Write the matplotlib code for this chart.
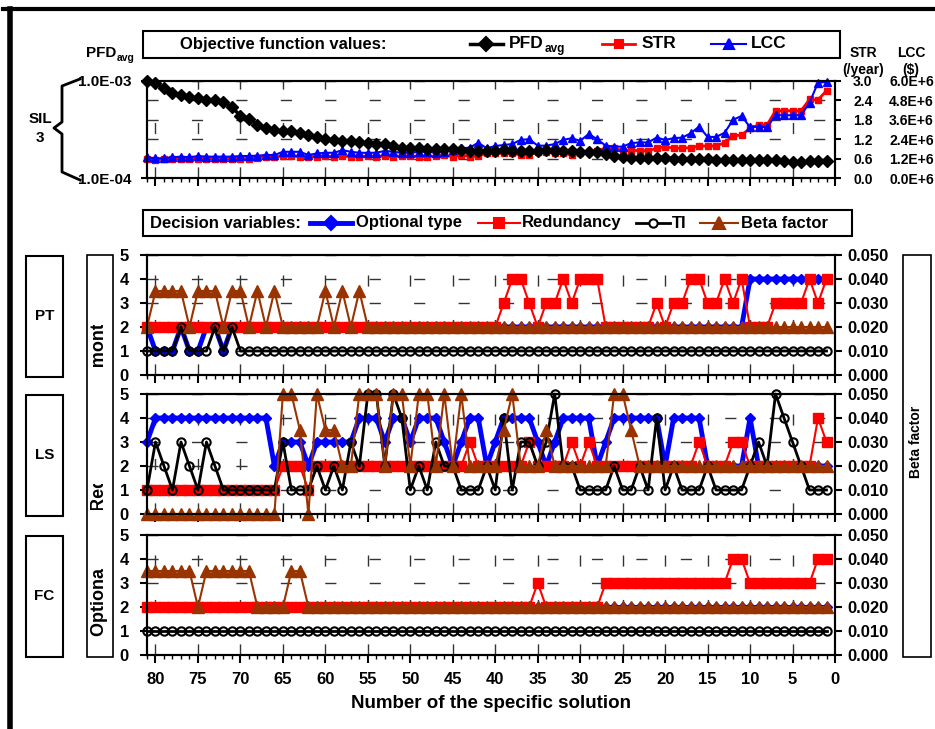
import matplotlib
matplotlib.use("Agg")
import matplotlib.pyplot as plt
from matplotlib.lines import Line2D
from matplotlib.patches import Rectangle
from matplotlib.ticker import MultipleLocator, NullLocator

plt.rcParams["font.family"] = ["Liberation Sans", "DejaVu Sans"]
plt.rcParams["font.weight"] = "bold"
plt.rcParams["font.size"] = 12
plt.rcParams["axes.linewidth"] = 1.5

# solutions numbered 81 -> 1 (left to right)
solution = list(range(81, 0, -1))

# ---- objective function values (rows of 10: 81-72, 71-62, ...) ----
pfd_avg = [
    1.00e-3, 9.46e-4, 8.41e-4, 7.46e-4, 7.18e-4, 6.92e-4, 6.61e-4, 6.37e-4, 6.37e-4, 6.03e-4,
    5.37e-4, 4.37e-4, 4.07e-4, 3.55e-4, 3.24e-4, 3.13e-4, 3.02e-4, 3.02e-4, 2.88e-4, 2.75e-4,
    2.63e-4, 2.51e-4, 2.45e-4, 2.43e-4, 2.40e-4, 2.34e-4, 2.29e-4, 2.24e-4, 2.24e-4, 2.14e-4,
    2.04e-4, 2.04e-4, 2.04e-4, 2.00e-4, 2.00e-4, 2.00e-4, 2.00e-4, 1.95e-4, 1.91e-4, 1.91e-4,
    1.91e-4, 1.91e-4, 1.95e-4, 1.91e-4, 1.91e-4, 1.91e-4, 1.91e-4, 1.95e-4, 1.91e-4, 1.91e-4,
    1.91e-4, 1.86e-4, 1.86e-4, 1.86e-4, 1.76e-4, 1.70e-4, 1.64e-4, 1.62e-4, 1.62e-4, 1.62e-4,
    1.62e-4, 1.62e-4, 1.58e-4, 1.58e-4, 1.58e-4, 1.58e-4, 1.58e-4, 1.53e-4, 1.53e-4, 1.53e-4,
    1.53e-4, 1.53e-4, 1.53e-4, 1.53e-4, 1.53e-4, 1.48e-4, 1.46e-4, 1.46e-4, 1.48e-4, 1.48e-4,
    1.50e-4]
str_rate = [
    0.58, 0.57, 0.58, 0.58, 0.60, 0.60, 0.60, 0.60, 0.60, 0.60,
    0.60, 0.60, 0.60, 0.63, 0.65, 0.65, 0.68, 0.68, 0.66, 0.66,
    0.66, 0.68, 0.66, 0.68, 0.66, 0.66, 0.68, 0.66, 0.68, 0.66,
    0.68, 0.68, 0.66, 0.66, 0.68, 0.70, 0.66, 0.72, 0.66, 0.68,
    0.76, 0.76, 0.76, 0.76, 0.71, 0.71, 0.80, 0.80, 0.76, 0.76,
    0.71, 0.76, 0.80, 0.85, 0.92, 0.92, 0.85, 0.85, 0.85, 0.84,
    0.92, 0.97, 0.92, 0.92, 0.94, 0.99, 0.99, 0.99, 1.09, 1.30,
    1.33, 1.54, 1.64, 1.64, 2.08, 2.08, 2.08, 2.08, 2.43, 2.42,
    2.70]
lcc_musd = [
    1.28, 1.22, 1.22, 1.28, 1.32, 1.28, 1.36, 1.32, 1.32, 1.32,
    1.32, 1.36, 1.36, 1.38, 1.42, 1.42, 1.62, 1.62, 1.62, 1.42,
    1.52, 1.56, 1.56, 1.72, 1.62, 1.56, 1.56, 1.56, 1.68, 1.62,
    1.56, 1.56, 1.62, 1.62, 1.56, 1.62, 1.72, 1.84, 1.88, 2.18,
    1.84, 1.98, 2.04, 2.10, 2.36, 2.40, 2.00, 2.00, 2.10, 2.36,
    2.46, 2.30, 2.72, 2.40, 2.00, 1.94, 1.94, 2.16, 2.20, 2.20,
    2.50, 2.36, 2.46, 2.50, 2.76, 3.18, 2.54, 2.54, 2.80, 3.60,
    3.84, 3.14, 3.18, 3.14, 3.88, 3.88, 3.88, 3.88, 4.66, 5.90,
    5.94]

# ---- decision variables ----
pt_type = [
    2, 1, 1, 1, 2, 1, 1, 2, 2, 1,
    2, 2, 2, 2, 2, 2, 2, 2, 2, 2,
    2, 2, 2, 2, 2, 2, 2, 2, 2, 2,
    2, 2, 2, 2, 2, 2, 2, 2, 2, 2,
    2, 2, 2, 2, 2, 2, 2, 2, 2, 2,
    2, 2, 2, 2, 2, 2, 2, 2, 2, 2,
    2, 2, 2, 2, 2, 2, 2, 2, 2, 2,
    2, 4, 4, 4, 4, 4, 4, 4, 4, 4,
    4]
pt_red = [
    2, 2, 2, 2, 2, 2, 2, 2, 2, 2,
    2, 2, 2, 2, 2, 2, 2, 2, 2, 2,
    2, 2, 2, 2, 2, 2, 2, 2, 2, 2,
    2, 2, 2, 2, 2, 2, 2, 2, 2, 2,
    2, 2, 3, 4, 4, 3, 2, 3, 3, 4,
    3, 4, 4, 4, 2, 2, 2, 2, 2, 2,
    3, 2, 3, 3, 4, 4, 3, 3, 4, 3,
    4, 2, 2, 2, 3, 3, 3, 3, 4, 3,
    4]
pt_ti = [
    1, 1, 1, 1, 2, 1, 1, 1, 2, 1,
    2, 1, 1, 1, 1, 1, 1, 1, 1, 1,
    1, 1, 1, 1, 1, 1, 1, 1, 1, 1,
    1, 1, 1, 1, 1, 1, 1, 1, 1, 1,
    1, 1, 1, 1, 1, 1, 1, 1, 1, 1,
    1, 1, 1, 1, 1, 1, 1, 1, 1, 1,
    1, 1, 1, 1, 1, 1, 1, 1, 1, 1,
    1, 1, 1, 1, 1, 1, 1, 1, 1, 1,
    1]
pt_beta = [
    0.020, 0.035, 0.035, 0.035, 0.035, 0.020, 0.035, 0.035, 0.035, 0.020,
    0.035, 0.035, 0.020, 0.035, 0.020, 0.035, 0.020, 0.020, 0.020, 0.020,
    0.020, 0.035, 0.020, 0.035, 0.020, 0.035, 0.020, 0.020, 0.020, 0.020,
    0.020, 0.020, 0.020, 0.020, 0.020, 0.020, 0.020, 0.020, 0.020, 0.020,
    0.020, 0.020, 0.020, 0.020, 0.020, 0.020, 0.020, 0.020, 0.020, 0.020,
    0.020, 0.020, 0.020, 0.020, 0.020, 0.020, 0.020, 0.020, 0.020, 0.020,
    0.020, 0.020, 0.020, 0.020, 0.020, 0.020, 0.020, 0.020, 0.020, 0.020,
    0.020, 0.020, 0.020, 0.020, 0.020, 0.020, 0.020, 0.020, 0.020, 0.020,
    0.020]

ls_type = [
    3, 4, 4, 4, 4, 4, 4, 4, 4, 4,
    4, 4, 4, 4, 4, 2, 3, 3, 3, 2,
    3, 3, 3, 3, 3, 4, 4, 4, 3, 4,
    4, 3, 4, 4, 4, 3, 2, 3, 4, 4,
    2, 3, 4, 4, 4, 4, 3, 2, 3, 4,
    4, 4, 4, 2, 3, 4, 4, 4, 4, 4,
    4, 2, 4, 4, 4, 4, 2, 2, 2, 2,
    2, 4, 2, 2, 2, 2, 2, 2, 2, 2,
    2]
ls_red = [
    1, 1, 1, 1, 1, 1, 1, 1, 1, 1,
    1, 1, 1, 1, 1, 1, 2, 2, 2, 1,
    2, 2, 2, 2, 2, 2, 2, 2, 2, 2,
    2, 2, 2, 2, 2, 2, 2, 2, 3, 2,
    2, 2, 2, 2, 2, 3, 2, 2, 2, 2,
    3, 2, 3, 2, 2, 2, 2, 2, 2, 2,
    2, 2, 2, 2, 2, 3, 2, 2, 2, 3,
    3, 2, 2, 2, 2, 2, 2, 2, 2, 4,
    3]
ls_ti = [
    1, 3, 2, 1, 3, 2, 1, 3, 2, 1,
    1, 1, 1, 1, 1, 1, 3, 1, 1, 1,
    2, 1, 2, 1, 3, 2, 5, 5, 2, 5,
    4, 1, 2, 1, 3, 2, 2, 1, 1, 1,
    2, 1, 4, 1, 3, 3, 2, 3, 5, 2,
    2, 1, 1, 1, 1, 2, 1, 1, 2, 1,
    4, 1, 2, 1, 1, 1, 2, 1, 1, 1,
    1, 2, 3, 2, 5, 4, 3, 2, 1, 1,
    1]
ls_beta = [
    0.000, 0.000, 0.000, 0.000, 0.000, 0.000, 0.000, 0.000, 0.000, 0.000,
    0.000, 0.000, 0.000, 0.000, 0.000, 0.000, 0.050, 0.050, 0.035, 0.000,
    0.050, 0.035, 0.035, 0.020, 0.020, 0.050, 0.050, 0.050, 0.020, 0.050,
    0.050, 0.020, 0.050, 0.050, 0.020, 0.050, 0.020, 0.050, 0.020, 0.020,
    0.020, 0.020, 0.035, 0.050, 0.020, 0.020, 0.020, 0.035, 0.020, 0.020,
    0.020, 0.020, 0.020, 0.020, 0.020, 0.050, 0.050, 0.035, 0.020, 0.020,
    0.020, 0.020, 0.020, 0.020, 0.020, 0.020, 0.020, 0.020, 0.020, 0.020,
    0.020, 0.020, 0.020, 0.020, 0.020, 0.020, 0.020, 0.020, 0.020, 0.020,
    0.020]

fc_type = [2] * 81
fc_red = [
    2, 2, 2, 2, 2, 2, 2, 2, 2, 2,
    2, 2, 2, 2, 2, 2, 2, 2, 2, 2,
    2, 2, 2, 2, 2, 2, 2, 2, 2, 2,
    2, 2, 2, 2, 2, 2, 2, 2, 2, 2,
    2, 2, 2, 2, 2, 2, 3, 2, 2, 2,
    2, 2, 2, 2, 3, 3, 3, 3, 3, 3,
    3, 3, 3, 3, 3, 3, 3, 3, 3, 4,
    4, 3, 3, 3, 3, 3, 3, 3, 3, 4,
    4]
fc_ti = [1] * 81
fc_beta = [
    0.035, 0.035, 0.035, 0.035, 0.035, 0.035, 0.020, 0.035, 0.035, 0.035,
    0.035, 0.035, 0.035, 0.020, 0.020, 0.020, 0.020, 0.035, 0.035, 0.020,
    0.020, 0.020, 0.020, 0.020, 0.020, 0.020, 0.020, 0.020, 0.020, 0.020,
    0.020, 0.020, 0.020, 0.020, 0.020, 0.020, 0.020, 0.020, 0.020, 0.020,
    0.020, 0.020, 0.020, 0.020, 0.020, 0.020, 0.020, 0.020, 0.020, 0.020,
    0.020, 0.020, 0.020, 0.020, 0.020, 0.020, 0.020, 0.020, 0.020, 0.020,
    0.020, 0.020, 0.020, 0.020, 0.020, 0.020, 0.020, 0.020, 0.020, 0.020,
    0.020, 0.020, 0.020, 0.020, 0.020, 0.020, 0.020, 0.020, 0.020, 0.020,
    0.020]

panels = [
    ("PT", pt_type, pt_red, pt_ti, pt_beta, 255, 375),
    ("LS", ls_type, ls_red, ls_ti, ls_beta, 394, 514),
    ("FC", fc_type, fc_red, fc_ti, fc_beta, 535, 655),
]

BLUE, RED, BLACK, BROWN = "#0000FF", "#FF0000", "#000000", "#993300"
GRID = dict(color="#333333", lw=1.0, linestyle=(0, (8, 24)))

W, H = 935, 729
fig = plt.figure(figsize=(W / 100, H / 100), dpi=100)


# pixel helpers (origin at top-left of the image)
def fx(px):
    return px / W


def fy(py):
    return 1 - py / H


def frame(x0, y0, x1, y1, lw=1.5):
    fig.add_artist(Rectangle((fx(x0), fy(y1)), fx(x1) - fx(x0), fy(y0) - fy(y1),
                             transform=fig.transFigure, fill=False, ec="black", lw=lw))


def ftext(x, y, s, **kw):
    kw.setdefault("ha", "left")
    kw.setdefault("va", "center")
    fig.text(fx(x), fy(y), s, **kw)


def sample(x0, x1, y, color, marker, ms, lw, mfc=None):
    fig.add_artist(Line2D([fx(x0), fx(x1)], [fy(y), fy(y)], color=color, lw=lw,
                          transform=fig.transFigure))
    fig.add_artist(Line2D([fx((x0 + x1) / 2)], [fy(y)], color=color, marker=marker, ms=ms,
                          mfc=mfc or color, mec=color, mew=1.5, transform=fig.transFigure))


def add_axes(top, bottom):
    return fig.add_axes([fx(147), fy(bottom), fx(835) - fx(147), fy(top) - fy(bottom)])


def style_x(ax, labels):
    ax.set_xlim(81, 0)
    ax.xaxis.set_major_locator(MultipleLocator(5))
    ax.xaxis.set_minor_locator(MultipleLocator(1))
    ax.tick_params(axis="x", which="major", direction="out", length=6, width=1.5,
                   labelbottom=labels, pad=6, labelsize=12)
    ax.tick_params(axis="x", which="minor", direction="out", length=3, width=1)


# ---------------- objective function panel ----------------
ax_str = add_axes(81, 178)
ax_pfd = ax_str.twinx()
ax_lcc = ax_str.twinx()
ax_str.set_zorder(1)
ax_lcc.set_zorder(2)
ax_pfd.set_zorder(3)
ax_str.patch.set_visible(True)

style_x(ax_str, False)
ax_str.set_ylim(0, 3)
ax_str.set_yticks([0, 0.6, 1.2, 1.8, 2.4, 3.0])
ax_str.set_yticklabels([f"{v:.1f}" for v in [0, 0.6, 1.2, 1.8, 2.4, 3.0]])
ax_str.yaxis.tick_right()
ax_str.tick_params(axis="y", direction="out", length=4, width=1.5, pad=9, labelsize=10)
ax_str.yaxis.grid(True, **GRID)
for xv in range(80, 0, -5):
    ax_str.axvline(xv, zorder=0.5, **GRID)
ax_str.plot(solution, str_rate, color=RED, lw=2, marker="s", ms=5, mec=RED, clip_on=False)

ax_lcc.set_ylim(0, 6e6)
ax_lcc.set_yticks([0, 1.2e6, 2.4e6, 3.6e6, 4.8e6, 6.0e6])
ax_lcc.set_yticklabels([f"{v / 1e6:.1f}E+6" for v in [0, 1.2e6, 2.4e6, 3.6e6, 4.8e6, 6.0e6]])
ax_lcc.tick_params(axis="y", length=0, pad=39, labelsize=10)
for s in ax_lcc.spines.values():
    s.set_visible(False)
ax_lcc.plot(solution, [v * 1e6 for v in lcc_musd], color=BLUE, lw=1.5, marker="^", ms=6,
            mec=BLUE, clip_on=False)

ax_pfd.set_yscale("log")
ax_pfd.set_ylim(1e-4, 1e-3)
ax_pfd.yaxis.tick_left()
ax_pfd.set_yticks([1e-4, 1e-3])
ax_pfd.set_yticklabels(["1.0E-04", "1.0E-03"])
ax_pfd.yaxis.set_minor_locator(NullLocator())
ax_pfd.tick_params(axis="y", direction="out", length=4, width=1.5, pad=7, labelsize=11)
ax_pfd.plot(solution, pfd_avg, color=BLACK, lw=2.5, marker="D", ms=6, clip_on=False)

# axis captions around the top panel
ftext(86, 53, "PFD", fontsize=11)
ftext(117, 58, "avg", fontsize=7.5)
ftext(863, 53, "STR", fontsize=10, ha="center")
ftext(863, 70, "(/year)", fontsize=10, ha="center")
ftext(911, 53, "LCC", fontsize=10, ha="center")
ftext(911, 70, "($)", fontsize=10, ha="center")
ftext(40, 119, "SIL", fontsize=11, ha="center")
ftext(40, 138, "3", fontsize=11, ha="center")
bx = [80, 62, 62, 54, 62, 62, 80]
by = [79, 86, 122, 128, 134, 172, 180]
fig.add_artist(Line2D([fx(v) for v in bx], [fy(v) for v in by], color="black", lw=2,
                      transform=fig.transFigure))

# top legend box
frame(143, 31, 840, 58)
ftext(180, 44, "Objective function values:", fontsize=12)
sample(470, 503, 44, BLACK, "D", 7, 2.5)
ftext(509, 44, "PFD", fontsize=12.5)
ftext(545, 49, "avg", fontsize=8.5)
sample(602, 635, 44, RED, "s", 6, 2)
ftext(642, 44, "STR", fontsize=12.5)
sample(711, 746, 44, BLUE, "^", 7, 1.5)
ftext(751, 44, "LCC", fontsize=12.5)

# ---------------- decision variable panels ----------------
for i, (name, v_type, v_red, v_ti, v_beta, top, bottom) in enumerate(panels):
    ax = add_axes(top, bottom)
    axb = ax.twinx()
    style_x(ax, i == len(panels) - 1)
    ax.set_ylim(0, 5)
    ax.set_yticks(range(6))
    ax.tick_params(axis="y", direction="out", length=5, width=1.5, pad=8, labelsize=12)
    ax.yaxis.grid(True, **GRID)
    ax.xaxis.grid(True, **GRID)
    ax.set_axisbelow(True)

    ax.plot(solution, v_type, color=BLUE, lw=3.5, marker="D", ms=5.5, mec=BLUE, clip_on=False)
    ax.plot(solution, v_red, color=RED, lw=1.5, marker="s", ms=7.5, mec=RED, clip_on=False)
    ax.plot(solution, v_ti, color=BLACK, lw=2, marker="o", ms=6, mfc="none", mew=1.5,
            clip_on=False)

    axb.set_ylim(0, 0.05)
    axb.set_yticks([0, 0.01, 0.02, 0.03, 0.04, 0.05])
    axb.set_yticklabels([f"{v:.3f}" for v in [0, 0.01, 0.02, 0.03, 0.04, 0.05]])
    axb.tick_params(axis="y", direction="out", length=5, width=1.5, pad=4, labelsize=12)
    axb.plot(solution, v_beta, color=BROWN, lw=1.5, marker="^", ms=8, mec=BROWN, clip_on=False)

    # subsystem label box on the left
    frame(26, top + 1, 63, bottom + 2)
    ftext(44.5, (top + bottom) / 2 + 1, name, fontsize=11, ha="center")

# decision-variable legend box
frame(143, 210, 852, 236)
ftext(150, 223, "Decision variables:", fontsize=12)
sample(310, 352, 223, BLUE, "D", 7, 3.5)
ftext(356, 223, "Optional type", fontsize=12)
sample(478, 520, 223, RED, "s", 7, 1.5)
ftext(522, 223, "Redundancy", fontsize=12)
sample(636, 670, 223, BLACK, "o", 6, 2, mfc="white")
ftext(672, 223, "TI", fontsize=12)
sample(700, 738, 223, BROWN, "^", 8, 1.5)
ftext(741, 223, "Beta factor", fontsize=12)

# y-axis caption boxes (left one is partly blanked out in the source figure)
frame(87, 255, 113, 657, lw=1.2)
ftext(100, 471, "Optional type, Redundancy, TI (month)", fontsize=13, ha="center",
      rotation=90)
for y0, y1 in [(510, 568), (368, 484), (290, 325)]:
    fig.add_artist(Rectangle((fx(89), fy(y1)), fx(111) - fx(89), fy(y0) - fy(y1),
                             transform=fig.transFigure, fc="white", ec="none", zorder=5))
frame(903, 255, 931, 657, lw=1.2)
ftext(916, 442, "Beta factor", fontsize=10, ha="center", rotation=90)

ftext(491, 703, "Number of the specific solution", fontsize=13.5, ha="center")

# outer border (top and left edges)
fig.add_artist(Line2D([fx(3), fx(935)], [fy(8.5), fy(8.5)], color="black", lw=3,
                      transform=fig.transFigure))
fig.add_artist(Line2D([fx(10), fx(10)], [fy(8.5), fy(729)], color="black", lw=4,
                      transform=fig.transFigure))

fig.savefig("out.png", dpi=100)
